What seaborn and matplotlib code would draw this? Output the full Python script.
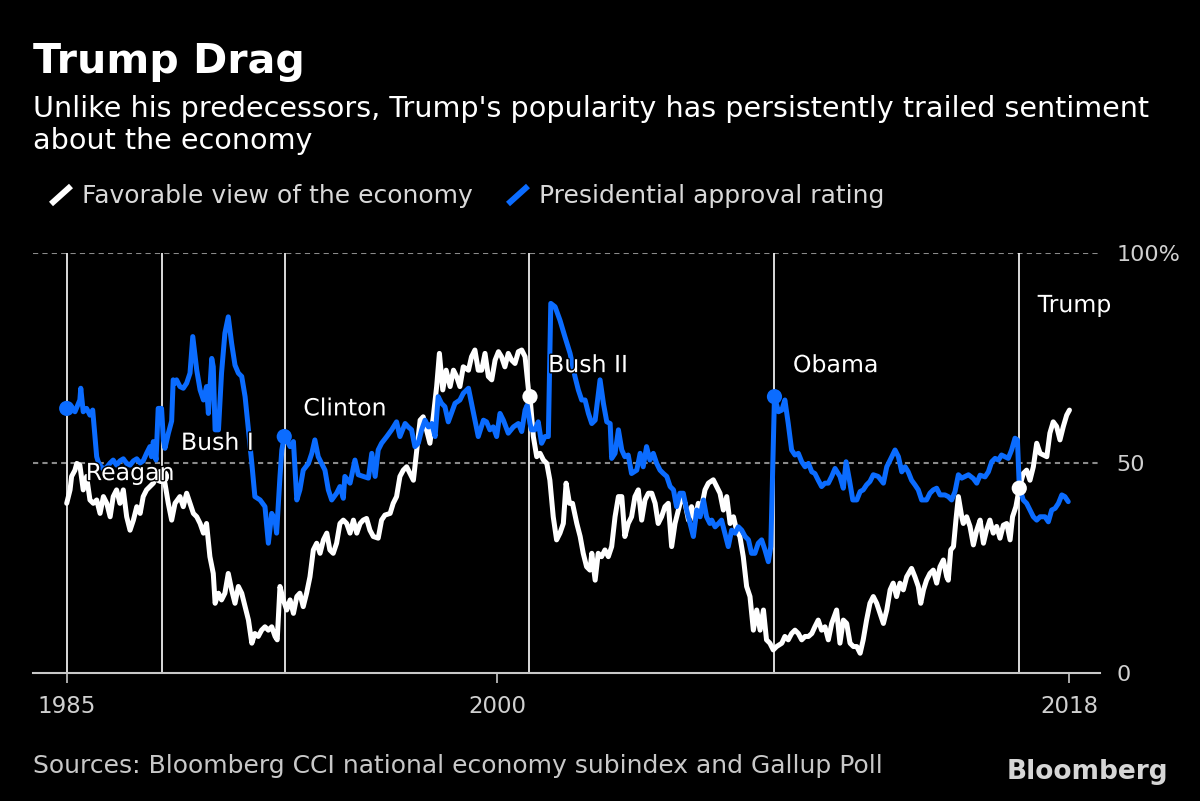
import matplotlib
matplotlib.use("Agg")
import matplotlib.pyplot as plt
import matplotlib.patheffects as pe
from matplotlib.lines import Line2D
import seaborn as sns
import pandas as pd

# --- Daten ---

approval_year = [
    1985.93, 1986.09, 1986.20, 1986.36, 1986.39, 1986.47, 1986.58, 1986.69, 1986.78, 1986.91,
    1986.96, 1987.02, 1987.13, 1987.24, 1987.35, 1987.45, 1987.56, 1987.67, 1987.78, 1987.89,
    1988.00, 1988.11, 1988.22, 1988.33, 1988.43, 1988.54, 1988.65, 1988.70, 1988.76, 1988.85,
    1988.92, 1989.03, 1989.09, 1989.14, 1989.25, 1989.36, 1989.41, 1989.47, 1989.52, 1989.63,
    1989.74, 1989.85, 1989.96, 1990.05, 1990.18, 1990.29, 1990.40, 1990.50, 1990.56, 1990.67,
    1990.72, 1990.78, 1990.89, 1990.99, 1991.10, 1991.21, 1991.32, 1991.43, 1991.54, 1991.65,
    1991.76, 1991.87, 1991.98, 1992.08, 1992.25, 1992.41, 1992.52, 1992.63, 1992.74, 1992.79,
    1992.90, 1992.96, 1993.04, 1993.12, 1993.23, 1993.34, 1993.45, 1993.55, 1993.66, 1993.83,
    1993.94, 1994.04, 1994.15, 1994.26, 1994.37, 1994.48, 1994.59, 1994.75, 1994.86, 1994.97,
    1995.02, 1995.19, 1995.35, 1995.46, 1995.62, 1995.79, 1995.90, 1996.01, 1996.11, 1996.22,
    1996.39, 1996.55, 1996.71, 1996.82, 1996.99, 1997.09, 1997.20, 1997.31, 1997.42, 1997.53,
    1997.64, 1997.75, 1997.86, 1997.97, 1998.07, 1998.18, 1998.29, 1998.40, 1998.62, 1998.78,
    1998.89, 1999.06, 1999.16, 1999.27, 1999.38, 1999.55, 1999.65, 1999.76, 1999.87, 1999.98,
    2000.09, 2000.20, 2000.36, 2000.53, 2000.69, 2000.80, 2000.91, 2000.98, 2001.07, 2001.12,
    2001.23, 2001.34, 2001.45, 2001.56, 2001.67, 2001.75, 2001.89, 2002.05, 2002.21, 2002.38,
    2002.54, 2002.65, 2002.76, 2002.87, 2002.98, 2003.09, 2003.20, 2003.36, 2003.47, 2003.58,
    2003.69, 2003.74, 2003.85, 2003.96, 2004.07, 2004.17, 2004.28, 2004.39, 2004.56, 2004.67,
    2004.77, 2004.88, 2004.99, 2005.10, 2005.21, 2005.32, 2005.43, 2005.54, 2005.65, 2005.76,
    2005.86, 2005.97, 2006.08, 2006.19, 2006.30, 2006.41, 2006.52, 2006.63, 2006.74, 2006.84,
    2006.95, 2007.01, 2007.12, 2007.23, 2007.33, 2007.44, 2007.55, 2007.66, 2007.77, 2007.88,
    2007.99, 2008.10, 2008.21, 2008.31, 2008.42, 2008.53, 2008.64, 2008.75, 2008.86, 2008.94,
    2009.06, 2009.19, 2009.30, 2009.40, 2009.51, 2009.62, 2009.73, 2009.84, 2009.95, 2010.06,
    2010.17, 2010.28, 2010.38, 2010.49, 2010.60, 2010.71, 2010.82, 2010.93, 2011.04, 2011.20,
    2011.31, 2011.40, 2011.51, 2011.62, 2011.75, 2011.86, 2011.96, 2012.07, 2012.18, 2012.29,
    2012.45, 2012.62, 2012.73, 2012.84, 2013.00, 2013.11, 2013.22, 2013.33, 2013.43, 2013.54,
    2013.65, 2013.76, 2013.87, 2014.03, 2014.14, 2014.25, 2014.36, 2014.47, 2014.63, 2014.74,
    2014.85, 2014.96, 2015.07, 2015.18, 2015.29, 2015.40, 2015.56, 2015.67, 2015.78, 2015.94,
    2016.05, 2016.16, 2016.27, 2016.38, 2016.48, 2016.59, 2016.70, 2016.81, 2016.92, 2017.00,
    2017.06, 2017.19, 2017.30, 2017.41, 2017.52, 2017.63, 2017.74, 2017.79, 2017.90, 2018.01,
    2018.12, 2018.23, 2018.34, 2018.45, 2018.55, 2018.66,
]
approval = [
    63.0, 63.4, 62.2, 65.0, 67.8, 62.2, 63.0, 61.4, 62.6, 51.5,
    50.3, 49.5, 48.5, 49.0, 50.0, 50.7, 49.5, 50.5, 51.0, 49.9,
    49.5, 50.5, 51.0, 50.0, 50.5, 52.3, 53.9, 51.5, 55.1, 50.7,
    63.0, 63.0, 55.5, 53.5, 57.0, 60.0, 69.8, 69.0, 69.8, 68.2,
    67.8, 69.0, 71.4, 80.1, 72.1, 67.4, 65.0, 68.2, 61.8, 74.9,
    72.9, 57.9, 57.9, 71.4, 80.9, 84.8, 78.5, 73.3, 71.4, 70.6,
    65.8, 57.9, 49.9, 42.0, 41.2, 39.6, 30.9, 38.0, 36.4, 33.3,
    46.8, 53.1, 56.3, 55.5, 53.9, 55.1, 41.2, 43.6, 48.3, 49.9,
    52.3, 55.5, 51.5, 49.9, 48.3, 43.6, 41.2, 42.8, 44.4, 41.6,
    46.8, 45.2, 50.7, 47.2, 46.8, 46.4, 52.3, 46.8, 53.1, 54.7,
    56.3, 57.9, 59.8, 56.3, 59.4, 58.6, 57.9, 53.9, 54.7, 57.9,
    60.2, 58.6, 59.4, 56.3, 65.8, 64.2, 63.4, 59.8, 64.2, 65.0,
    66.6, 67.8, 64.2, 60.2, 56.3, 60.2, 59.8, 57.9, 58.6, 56.3,
    61.8, 60.2, 57.1, 58.6, 59.4, 57.5, 62.6, 63.8, 59.4, 57.9,
    57.9, 59.8, 54.7, 56.3, 56.3, 88.0, 87.2, 84.0, 80.1, 76.1,
    70.6, 67.4, 65.0, 65.0, 61.8, 59.4, 60.2, 69.8, 64.2, 59.8,
    59.4, 51.1, 52.3, 57.9, 53.1, 51.5, 51.9, 47.5, 48.3, 52.3,
    49.1, 53.9, 50.7, 52.3, 49.9, 48.3, 47.5, 46.8, 44.4, 43.6,
    39.6, 42.8, 42.8, 38.8, 35.6, 32.5, 38.8, 37.2, 41.2, 37.2,
    35.6, 36.4, 34.8, 35.6, 36.4, 33.3, 30.1, 34.0, 33.3, 34.8,
    34.0, 32.5, 31.7, 28.5, 28.5, 30.9, 31.7, 29.3, 26.5, 30.1,
    65.8, 62.2, 62.6, 65.0, 59.4, 53.1, 51.9, 52.3, 50.3, 49.1,
    49.9, 47.9, 47.5, 45.9, 44.4, 45.2, 45.2, 46.8, 48.7, 46.8,
    44.0, 50.3, 45.9, 41.2, 41.2, 43.2, 43.6, 44.8, 45.6, 47.2,
    46.8, 45.2, 49.1, 50.7, 53.1, 51.5, 47.9, 49.1, 47.9, 45.9,
    44.8, 43.6, 41.2, 41.2, 42.8, 43.6, 44.0, 42.4, 42.4, 42.0,
    41.2, 43.2, 47.2, 46.4, 46.8, 47.2, 46.3, 45.2, 47.1, 46.7,
    47.9, 50.3, 51.1, 50.7, 51.9, 51.5, 51.1, 53.1, 55.9, 55.5,
    44.4, 41.2, 40.4, 38.8, 37.2, 36.4, 37.2, 37.2, 37.2, 36.0,
    38.8, 39.2, 40.4, 42.4, 42.0, 40.8,
]

economy_year = [
    1985.93, 1986.04, 1986.09, 1986.20, 1986.26, 1986.36, 1986.47, 1986.58, 1986.69, 1986.80,
    1986.91, 1987.02, 1987.13, 1987.24, 1987.35, 1987.45, 1987.56, 1987.67, 1987.78, 1987.89,
    1988.00, 1988.11, 1988.22, 1988.33, 1988.43, 1988.54, 1988.65, 1988.76, 1988.87, 1989.03,
    1989.14, 1989.25, 1989.36, 1989.47, 1989.63, 1989.74, 1989.85, 1989.96, 1990.07, 1990.18,
    1990.29, 1990.40, 1990.50, 1990.61, 1990.72, 1990.78, 1990.89, 1990.99, 1991.10, 1991.21,
    1991.32, 1991.43, 1991.54, 1991.65, 1991.76, 1991.87, 1991.98, 1992.08, 1992.19, 1992.30,
    1992.41, 1992.52, 1992.63, 1992.74, 1992.81, 1992.90, 1993.01, 1993.12, 1993.23, 1993.34,
    1993.45, 1993.55, 1993.66, 1993.77, 1993.88, 1993.99, 1994.10, 1994.21, 1994.32, 1994.43,
    1994.53, 1994.64, 1994.75, 1994.86, 1994.97, 1995.08, 1995.19, 1995.30, 1995.41, 1995.52,
    1995.62, 1995.73, 1995.84, 1995.95, 1996.11, 1996.22, 1996.33, 1996.50, 1996.60, 1996.71,
    1996.82, 1996.93, 1997.04, 1997.15, 1997.26, 1997.37, 1997.48, 1997.58, 1997.69, 1997.80,
    1997.91, 1998.02, 1998.11, 1998.22, 1998.33, 1998.46, 1998.57, 1998.67, 1998.78, 1998.89,
    1999.06, 1999.16, 1999.27, 1999.38, 1999.49, 1999.60, 1999.71, 1999.82, 1999.93, 2000.04,
    2000.14, 2000.25, 2000.36, 2000.47, 2000.58, 2000.69, 2000.80, 2000.91, 2001.02, 2001.07,
    2001.18, 2001.29, 2001.40, 2001.51, 2001.62, 2001.72, 2001.83, 2001.94, 2002.05, 2002.16,
    2002.25, 2002.36, 2002.46, 2002.60, 2002.71, 2002.81, 2002.92, 2003.03, 2003.09, 2003.20,
    2003.30, 2003.41, 2003.52, 2003.63, 2003.74, 2003.85, 2003.96, 2004.07, 2004.17, 2004.28,
    2004.39, 2004.50, 2004.61, 2004.72, 2004.83, 2004.94, 2005.05, 2005.16, 2005.26, 2005.37,
    2005.48, 2005.59, 2005.70, 2005.81, 2005.92, 2006.03, 2006.14, 2006.25, 2006.35, 2006.46,
    2006.57, 2006.68, 2006.79, 2006.90, 2007.06, 2007.17, 2007.28, 2007.39, 2007.50, 2007.61,
    2007.72, 2007.82, 2007.93, 2008.04, 2008.15, 2008.26, 2008.37, 2008.48, 2008.59, 2008.70,
    2008.80, 2008.91, 2009.02, 2009.13, 2009.30, 2009.40, 2009.51, 2009.62, 2009.73, 2009.84,
    2009.95, 2010.06, 2010.17, 2010.28, 2010.38, 2010.49, 2010.60, 2010.71, 2010.82, 2010.93,
    2011.09, 2011.20, 2011.31, 2011.42, 2011.53, 2011.64, 2011.75, 2011.86, 2011.96, 2012.07,
    2012.18, 2012.29, 2012.40, 2012.51, 2012.62, 2012.73, 2012.84, 2012.94, 2013.05, 2013.16,
    2013.27, 2013.38, 2013.54, 2013.65, 2013.76, 2013.84, 2013.93, 2014.03, 2014.14, 2014.25,
    2014.36, 2014.47, 2014.58, 2014.69, 2014.74, 2014.82, 2014.91, 2014.99, 2015.07, 2015.18,
    2015.23, 2015.34, 2015.45, 2015.56, 2015.67, 2015.78, 2015.89, 2015.99, 2016.10, 2016.21,
    2016.32, 2016.43, 2016.54, 2016.65, 2016.76, 2016.84, 2016.95, 2017.06, 2017.19, 2017.30,
    2017.41, 2017.52, 2017.63, 2017.74, 2017.85, 2017.96, 2018.06, 2018.17, 2018.28, 2018.39,
    2018.50, 2018.61, 2018.70,
]
economy = [
    40.4, 43.6, 46.8, 48.3, 49.9, 49.5, 43.6, 46.8, 41.2, 40.4,
    41.2, 38.0, 42.0, 40.4, 37.2, 42.0, 43.6, 40.4, 43.6, 37.2,
    34.0, 36.4, 39.6, 38.0, 42.0, 43.6, 44.4, 45.2, 46.8, 46.8,
    45.2, 40.4, 36.4, 40.4, 42.0, 39.6, 42.8, 40.4, 38.0, 37.2,
    35.6, 33.3, 35.6, 27.7, 23.7, 16.6, 19.0, 17.4, 19.0, 23.7,
    19.8, 16.6, 20.6, 19.0, 15.8, 12.6, 7.1, 9.4, 8.7, 10.2,
    11.0, 10.2, 11.0, 8.7, 7.9, 20.6, 17.4, 15.0, 17.4, 14.2,
    18.2, 19.0, 15.8, 19.0, 22.9, 29.3, 30.9, 28.5, 31.7, 33.3,
    29.3, 28.5, 30.9, 35.6, 36.4, 35.6, 33.3, 36.4, 33.3, 35.6,
    36.4, 36.8, 34.0, 32.5, 32.1, 36.4, 37.6, 38.0, 40.4, 42.0,
    46.8, 48.3, 49.1, 47.5, 45.9, 53.1, 60.2, 61.0, 57.9, 54.7,
    61.0, 68.2, 76.1, 67.4, 72.1, 68.2, 72.1, 70.6, 68.2, 72.9,
    72.1, 75.3, 76.9, 72.1, 72.1, 76.1, 70.6, 69.8, 74.5, 76.5,
    75.3, 72.9, 76.1, 74.5, 73.7, 76.5, 76.9, 75.3, 67.4, 65.8,
    56.3, 51.5, 52.3, 50.7, 49.9, 45.9, 37.2, 31.7, 33.3, 35.6,
    45.2, 40.4, 40.4, 35.6, 32.5, 28.5, 25.3, 24.5, 28.5, 22.1,
    28.5, 27.7, 29.3, 27.7, 30.1, 37.2, 42.0, 42.0, 32.5, 35.6,
    37.2, 42.0, 43.6, 36.4, 41.2, 42.8, 42.8, 40.4, 35.6, 37.2,
    39.6, 40.4, 30.1, 35.6, 38.8, 42.0, 40.4, 36.4, 39.6, 36.4,
    40.4, 39.6, 43.6, 45.2, 46.0, 44.4, 42.8, 38.8, 42.0, 35.6,
    37.2, 34.0, 32.5, 27.7, 20.6, 18.2, 10.2, 15.0, 10.2, 15.0,
    7.9, 7.1, 5.5, 6.3, 7.1, 8.7, 7.9, 9.4, 10.2, 9.4,
    7.9, 8.7, 8.7, 9.4, 11.0, 12.6, 10.2, 11.0, 7.9, 11.8,
    15.0, 7.1, 12.6, 11.8, 7.1, 6.3, 6.3, 4.7, 7.9, 12.6,
    16.6, 18.2, 16.6, 14.2, 11.8, 15.0, 19.8, 21.4, 18.2, 21.4,
    19.8, 22.9, 24.9, 22.9, 20.6, 16.6, 19.8, 22.1, 23.7, 24.5,
    21.4, 25.3, 26.9, 22.9, 22.1, 29.3, 30.1, 36.4, 42.0, 37.2,
    35.6, 37.2, 34.9, 30.5, 34.0, 36.4, 30.9, 34.0, 36.4, 33.3,
    34.9, 32.1, 35.2, 35.6, 31.7, 37.2, 39.6, 44.0, 47.5, 48.3,
    45.9, 49.1, 54.7, 52.3, 51.9, 51.5, 57.1, 59.8, 58.7, 55.5,
    58.7, 61.4, 62.6,
]

# Amtsantritte (Reagan = Beginn der Daten)
presidents = ["Reagan", "Bush I", "Clinton", "Bush II", "Obama", "Trump"]
term_start = [1985.94, 1989.05, 1993.05, 2001.05, 2009.05, 2017.05]

# Punkte zu Beginn jeder Amtszeit
dot_year = [1985.93, 1989.03, 1993.04, 2001.07, 2009.06, 2017.06]
dot_value = [63.0, 46.8, 56.3, 65.8, 65.8, 44.0]
dot_series = ["approval", "economy", "approval", "economy", "approval", "economy"]

# Lage der Namensschilder (y-Wert)
label_y = [47.6, 54.8, 63.0, 73.3, 73.3, 87.6]

x_tick_pos = [1985.94, 2000.0, 2018.70]
x_tick_labels = ["1985", "2000", "2018"]
y_tick_pos = [0, 50, 100]
y_tick_labels = ["0", "50", "100%"]

BLUE = "#0b6cff"
WHITE = "#ffffff"
GREY = "#c8c8c8"

sns.set_theme(style="dark", rc={
    "figure.facecolor": "black",
    "axes.facecolor": "black",
    "savefig.facecolor": "black",
    "axes.grid": False,
    "text.color": "white",
})
plt.rcParams["font.family"] = ["DejaVu Sans"]

W, H = 1200, 801


def fx(px):
    return px / W


def fy(py):
    return 1 - py / H


fig = plt.figure(figsize=(12, 8.01), dpi=100)
ax = fig.add_axes([fx(33), fy(673), (1100 - 33) / W, (673 - 253) / H])

df_eco = pd.DataFrame({"year": economy_year, "value": economy})
df_app = pd.DataFrame({"year": approval_year, "value": approval})
df_dots = pd.DataFrame({"year": dot_year, "value": dot_value, "series": dot_series})

# Hilfslinien
for v in [50, 100]:
    ax.axhline(v, color="#8a8a8a", lw=1.5, ls=(0, (2.5, 2)), zorder=1)
ax.vlines(term_start, 0, 100, color=WHITE, lw=1.2, zorder=2)

sns.lineplot(data=df_eco, x="year", y="value", color=WHITE, lw=3.6,
             estimator=None, sort=False, ax=ax, zorder=3)
sns.lineplot(data=df_app, x="year", y="value", color=BLUE, lw=3.6,
             estimator=None, sort=False, ax=ax, zorder=4)
sns.scatterplot(data=df_dots, x="year", y="value", hue="series",
                palette={"economy": WHITE, "approval": BLUE}, s=120,
                linewidth=0, legend=False, ax=ax, zorder=5)

for name, x0, y0 in zip(presidents, term_start, label_y):
    ax.annotate(name, xy=(x0, y0), xytext=(13.5, 0), textcoords="offset points",
                va="center", ha="left", fontsize=17, color=WHITE, zorder=6,
                path_effects=[pe.withStroke(linewidth=2, foreground="black")])

ax.set_xlim(1985.94 - 34 / 30.6, 1985.94 + 1033 / 30.6)
ax.set_ylim(0, 100)
ax.set_xlabel("")
ax.set_ylabel("")
ax.set_xticks(x_tick_pos)
ax.set_xticklabels(x_tick_labels)
ax.yaxis.tick_right()
ax.set_yticks(y_tick_pos)
ax.set_yticklabels(y_tick_labels)
ax.tick_params(axis="x", direction="out", length=7, width=1.2, color=GREY,
               labelcolor="#d0d0d0", labelsize=16.5, pad=9, bottom=True)
ax.tick_params(axis="y", length=0, labelcolor="#d0d0d0", labelsize=16, pad=12, right=True)
for side in ["top", "left", "right"]:
    ax.spines[side].set_visible(False)
ax.spines["bottom"].set_color(GREY)
ax.spines["bottom"].set_linewidth(1.5)

# Titel, Untertitel, Legende
fig.text(fx(33), fy(73), "Trump Drag", fontsize=29.6, fontweight="bold", color=WHITE, va="baseline")
fig.text(fx(33), fy(117), "Unlike his predecessors, Trump's popularity has persistently trailed sentiment",
         fontsize=20.6, color=WHITE, va="baseline")
fig.text(fx(33), fy(149), "about the economy", fontsize=20.6, color=WHITE, va="baseline")

for x0, col, text in [(51, WHITE, "Favorable view of the economy"),
                      (508, BLUE, "Presidential approval rating")]:
    fig.add_artist(Line2D([fx(x0), fx(x0 + 20)], [fy(204), fy(186)], color=col, lw=4.3,
                          solid_capstyle="butt", transform=fig.transFigure))
    fig.text(fx(x0 + 31), fy(203), text, fontsize=18, color="#d9d9d9", va="baseline")

fig.text(fx(33), fy(773), "Sources: Bloomberg CCI national economy subindex and Gallup Poll",
         fontsize=18, color=GREY, va="baseline")
fig.text(fx(1168), fy(779), "Bloomberg", fontsize=19, fontweight="bold", color="#d6d6d6",
         va="baseline", ha="right")

fig.savefig("out.png", dpi=100)
